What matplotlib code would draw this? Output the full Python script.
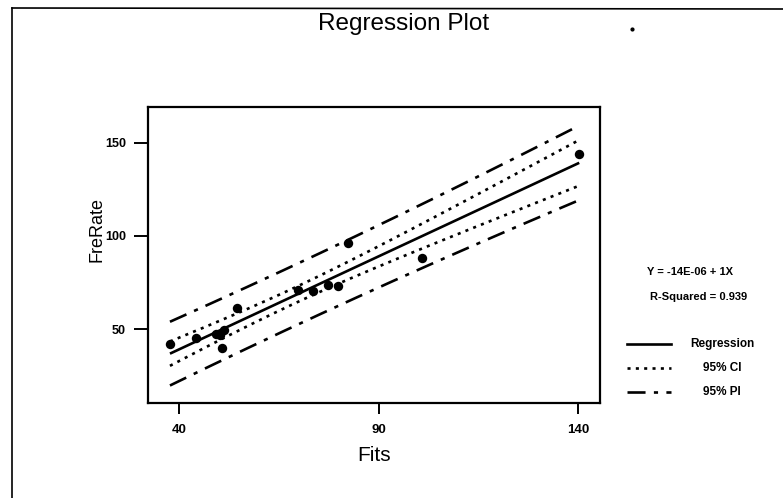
import numpy as np
import matplotlib
matplotlib.use("Agg")
import matplotlib.pyplot as plt
from matplotlib.lines import Line2D

plt.rcParams['font.family'] = ['Liberation Sans', 'DejaVu Sans']
plt.rcParams['lines.scale_dashes'] = False

# ---- data ----
fits = [37.7, 44.3, 49.2, 50.3, 51.2, 50.8, 54.4, 69.75, 73.5, 77.25, 79.75, 82.25, 100.8, 140.2]
fre_rate = [42.1, 45.3, 47.5, 46.6, 49.3, 40.0, 61.3, 71.1, 70.4, 73.5, 73.3, 96.2, 88.0, 143.9]
x_ticks = [40, 90, 140]
y_ticks = [50, 100, 150]
equation_text = "Y = -14E-06 + 1X"
r2_text = "R-Squared = 0.939"
legend_labels = ["Regression", "95% CI", "95% PI"]
t_crit = 2.1788  # t(0.975, df=12)

x = np.array(fits)
y = np.array(fre_rate)
n = len(x)
slope, intercept = np.polyfit(x, y, 1)
resid = y - (intercept + slope * x)
s = np.sqrt(np.sum(resid ** 2) / (n - 2))
sxx = np.sum((x - x.mean()) ** 2)
xs = np.linspace(x.min(), x.max(), 200)
yhat = intercept + slope * xs
ci = t_crit * s * np.sqrt(1.0 / n + (xs - x.mean()) ** 2 / sxx)
pi = t_crit * s * np.sqrt(1 + 1.0 / n + (xs - x.mean()) ** 2 / sxx)

W, H = 783, 498
fig = plt.figure(figsize=(W / 100, H / 100), dpi=100)
ax = fig.add_axes([148 / W, 1 - 403 / H, (600 - 148) / W, (403 - 107) / H])

ci_dash = (2.2, 3.8)
pi_dash = (13.0, 6.0, 3.0, 6.0)
lw = 1.9

ax.plot(xs, yhat, color='black', lw=lw, solid_capstyle='butt')
for sign in (1, -1):
    l1, = ax.plot(xs, yhat + sign * ci, color='black', lw=lw)
    l1.set_dashes(ci_dash)
    l2, = ax.plot(xs, yhat + sign * pi, color='black', lw=lw)
    l2.set_dashes(pi_dash)
ax.scatter(x, y, s=46, color='black', zorder=5, linewidths=0)

ax.set_xlim(32.2, 145.4)
ax.set_ylim(10.3, 169.2)
ax.set_xticks(x_ticks)
ax.set_yticks(y_ticks)
ax.set_xticklabels([str(v) for v in x_ticks], fontsize=9.5, fontweight='bold')
ax.set_yticklabels([str(v) for v in y_ticks], fontsize=9, fontweight='bold')
ax.tick_params(axis='x', length=8, width=1.4, pad=7)
ax.tick_params(axis='y', length=10, width=1.4, pad=6)
for sp in ax.spines.values():
    sp.set_linewidth(1.6)

ax.set_xlabel("Fits", fontsize=15, labelpad=7)
fig.text(97 / W, 1 - 230 / H, "FreRate", rotation=90, fontsize=13,
         ha='center', va='center')
fig.text(403.5 / W, 1 - 24 / H, "Regression Plot", fontsize=17.5,
         ha='center', va='center')

# equation / R^2
fig.text(690 / W, 1 - 272 / H, equation_text, fontsize=8, fontweight='bold',
         ha='center', va='center')
fig.text(699 / W, 1 - 297 / H, r2_text, fontsize=8, fontweight='bold',
         ha='center', va='center')

# manual legend
leg_y = [344, 368, 392]
leg_dashes = [None, ci_dash, pi_dash]
for lab, yy, d in zip(legend_labels, leg_y, leg_dashes):
    ln = Line2D([627 / W, 671 / W], [1 - yy / H, 1 - yy / H], color='black',
                lw=lw, transform=fig.transFigure)
    if d is not None:
        ln.set_dashes(d)
    fig.add_artist(ln)
    fig.text(722 / W, 1 - yy / H, lab, fontsize=8.5, fontweight='bold',
             ha='center', va='center')

# outer border (left and top) and scan speck
fig.add_artist(Line2D([12 / W, 12 / W], [0, 1 - 8 / H], color='black', lw=1.2,
                      transform=fig.transFigure))
fig.add_artist(Line2D([12 / W, 1], [1 - 8 / H, 1 - 9 / H], color='black', lw=1.2,
                      transform=fig.transFigure))
fig.add_artist(Line2D([632 / W], [1 - 29 / H], marker='o', markersize=2,
                      color='black', lw=0, transform=fig.transFigure))

fig.savefig("out.png", dpi=100)
